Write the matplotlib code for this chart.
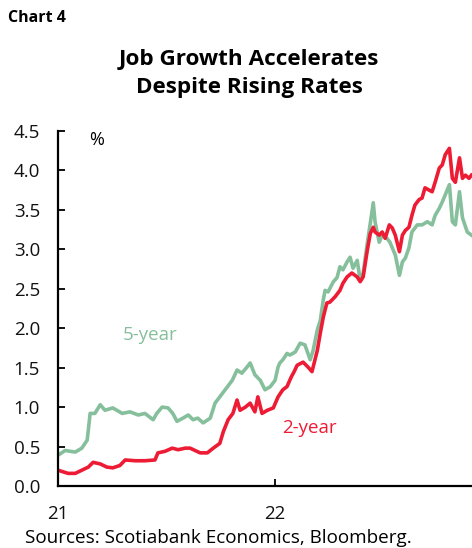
import matplotlib
matplotlib.use("Agg")
import matplotlib.pyplot as plt
import matplotlib.dates as mdates
import pandas as pd

plt.rcParams['font.family'] = ['Open Sans', 'DejaVu Sans']

dates_5y = ['2021-01-01', '2021-01-13', '2021-01-30', '2021-02-10', '2021-02-19', '2021-02-21',
            '2021-02-24', '2021-03-04', '2021-03-13', '2021-03-21', '2021-04-03', '2021-04-19',
            '2021-05-02', '2021-05-16', '2021-05-27', '2021-06-10', '2021-06-16', '2021-06-25',
            '2021-07-05', '2021-07-13', '2021-07-20', '2021-07-30', '2021-08-08', '2021-08-16',
            '2021-08-24', '2021-09-02', '2021-09-14', '2021-09-22', '2021-09-30', '2021-10-09',
            '2021-10-21', '2021-10-29', '2021-11-06', '2021-11-15', '2021-11-20', '2021-11-28',
            '2021-12-07', '2021-12-15', '2021-12-24', '2022-01-01', '2022-01-06', '2022-01-09',
            '2022-01-14', '2022-01-21', '2022-01-26', '2022-02-04', '2022-02-12', '2022-02-20',
            '2022-03-01', '2022-03-06', '2022-03-13', '2022-03-18', '2022-03-23', '2022-03-26',
            '2022-03-31', '2022-04-09', '2022-04-15', '2022-04-20', '2022-04-25', '2022-05-02',
            '2022-05-07', '2022-05-12', '2022-05-19', '2022-05-24', '2022-05-29', '2022-06-05',
            '2022-06-10', '2022-06-15', '2022-06-18', '2022-06-25', '2022-06-30', '2022-07-08',
            '2022-07-13', '2022-07-22', '2022-07-29', '2022-08-03', '2022-08-08', '2022-08-14',
            '2022-08-19', '2022-08-28', '2022-09-05', '2022-09-14', '2022-09-22', '2022-09-27',
            '2022-10-04', '2022-10-09', '2022-10-14', '2022-10-21', '2022-10-26', '2022-10-31',
            '2022-11-07', '2022-11-12', '2022-11-20', '2022-11-27']
yld_5y = [0.39, 0.45, 0.43, 0.48, 0.58, 0.71,
          0.92, 0.92, 1.03, 0.96, 0.99, 0.92,
          0.94, 0.90, 0.92, 0.84, 0.92, 1.00,
          0.99, 0.92, 0.82, 0.86, 0.90, 0.84,
          0.86, 0.80, 0.86, 1.05, 1.13, 1.22,
          1.34, 1.47, 1.43, 1.51, 1.56, 1.41,
          1.34, 1.22, 1.26, 1.34, 1.51, 1.56,
          1.60, 1.68, 1.66, 1.70, 1.81, 1.79,
          1.60, 1.72, 1.98, 2.10, 2.36, 2.48,
          2.46, 2.59, 2.64, 2.78, 2.74, 2.84,
          2.90, 2.76, 2.86, 2.61, 2.70, 3.08,
          3.33, 3.59, 3.35, 3.09, 3.18, 3.14,
          3.09, 2.93, 2.67, 2.84, 2.89, 3.02,
          3.22, 3.31, 3.31, 3.35, 3.31, 3.43,
          3.52, 3.60, 3.69, 3.82, 3.35, 3.31,
          3.73, 3.40, 3.22, 3.18]

dates_2y = ['2021-01-01', '2021-01-18', '2021-01-30', '2021-02-10', '2021-02-21', '2021-03-01',
            '2021-03-13', '2021-03-24', '2021-04-03', '2021-04-15', '2021-04-24', '2021-05-11',
            '2021-05-27', '2021-06-13', '2021-06-18', '2021-06-30', '2021-07-12', '2021-07-22',
            '2021-08-03', '2021-08-11', '2021-08-28', '2021-09-09', '2021-09-19', '2021-09-30',
            '2021-10-06', '2021-10-14', '2021-10-22', '2021-10-29', '2021-11-03', '2021-11-12',
            '2021-11-20', '2021-11-28', '2021-12-03', '2021-12-10', '2021-12-19', '2021-12-29',
            '2022-01-06', '2022-01-14', '2022-01-21', '2022-01-28', '2022-02-02', '2022-02-07',
            '2022-02-17', '2022-02-25', '2022-03-04', '2022-03-13', '2022-03-18', '2022-03-23',
            '2022-03-29', '2022-04-03', '2022-04-12', '2022-04-20', '2022-04-25', '2022-05-02',
            '2022-05-10', '2022-05-19', '2022-05-24', '2022-05-29', '2022-06-05', '2022-06-10',
            '2022-06-15', '2022-06-18', '2022-06-25', '2022-06-30', '2022-07-05', '2022-07-12',
            '2022-07-17', '2022-07-22', '2022-07-29', '2022-08-03', '2022-08-08', '2022-08-14',
            '2022-08-19', '2022-08-24', '2022-08-31', '2022-09-05', '2022-09-10', '2022-09-17',
            '2022-09-22', '2022-09-27', '2022-10-04', '2022-10-09', '2022-10-14', '2022-10-21',
            '2022-10-26', '2022-10-31', '2022-11-07', '2022-11-12', '2022-11-17', '2022-11-23',
            '2022-11-27']
yld_2y = [0.20, 0.16, 0.16, 0.20, 0.24, 0.30,
          0.28, 0.24, 0.23, 0.26, 0.33, 0.32,
          0.32, 0.33, 0.42, 0.44, 0.48, 0.46,
          0.48, 0.48, 0.42, 0.42, 0.48, 0.54,
          0.69, 0.84, 0.92, 1.09, 0.96, 1.00,
          1.05, 0.94, 1.13, 0.92, 0.96, 0.99,
          1.13, 1.22, 1.26, 1.38, 1.45, 1.53,
          1.57, 1.51, 1.45, 1.72, 1.94, 2.14,
          2.32, 2.33, 2.40, 2.48, 2.57, 2.65,
          2.70, 2.65, 2.59, 2.65, 2.99, 3.20,
          3.28, 3.22, 3.18, 3.22, 3.14, 3.31,
          3.27, 3.18, 2.97, 3.18, 3.24, 3.28,
          3.43, 3.56, 3.63, 3.65, 3.78, 3.75,
          3.73, 3.85, 4.03, 4.07, 4.20, 4.28,
          3.90, 3.85, 4.16, 3.90, 3.94, 3.90,
          3.94]

RED = '#ED1B34'
GREEN = '#86BF9C'

fig = plt.figure(figsize=(4.72, 5.48), dpi=100)
ax = fig.add_axes([58/472, 1-486/548, 1-58/472, (486-131)/548])

ax.plot(pd.to_datetime(dates_5y), yld_5y, color=GREEN, lw=2.6, solid_joinstyle='round')
ax.plot(pd.to_datetime(dates_2y), yld_2y, color=RED, lw=2.6, solid_joinstyle='round')

ax.set_ylim(0, 4.5)
ax.set_yticks([0, 0.5, 1, 1.5, 2, 2.5, 3, 3.5, 4, 4.5])
ax.set_yticklabels(['0.0', '0.5', '1.0', '1.5', '2.0', '2.5', '3.0', '3.5', '4.0', '4.5'])
ax.set_xlim(pd.Timestamp('2021-01-01'), pd.Timestamp('2022-11-28'))
ax.set_xticks([pd.Timestamp('2021-01-01'), pd.Timestamp('2022-01-01')])
ax.xaxis.set_major_formatter(mdates.DateFormatter('%y'))

for s in ['top', 'right']:
    ax.spines[s].set_visible(False)
for s in ['left', 'bottom']:
    ax.spines[s].set_linewidth(1.6)
    ax.spines[s].set_color('black')
ax.tick_params(axis='both', direction='in', length=5, width=1.4, labelsize=13.5, colors='#111111')
ax.tick_params(axis='y', pad=13)
ax.tick_params(axis='x', pad=14)

ax.text(0.094, 0.975, '%', transform=ax.transAxes, fontsize=13, ha='center', va='center')
ax.text(pd.Timestamp('2021-04-20'), 1.91, '5-year', color=GREEN, fontsize=13.5, va='center')
ax.text(pd.Timestamp('2022-01-12'), 0.73, '2-year', color=RED, fontsize=13.5, va='center')

fig.text(8/472, 1-18/548, 'Chart 4', fontsize=11.5, fontweight='bold', va='center')
fig.text(249/472, 1-60/548, 'Job Growth Accelerates', fontsize=16.2, fontweight='bold',
         ha='center', va='center')
fig.text(249/472, 1-88/548, 'Despite Rising Rates', fontsize=16.2, fontweight='bold',
         ha='center', va='center')
fig.text(25/472, 1-538/548, 'Sources: Scotiabank Economics, Bloomberg.', fontsize=13.6,
         va='center')

fig.savefig('out.png', dpi=100)
